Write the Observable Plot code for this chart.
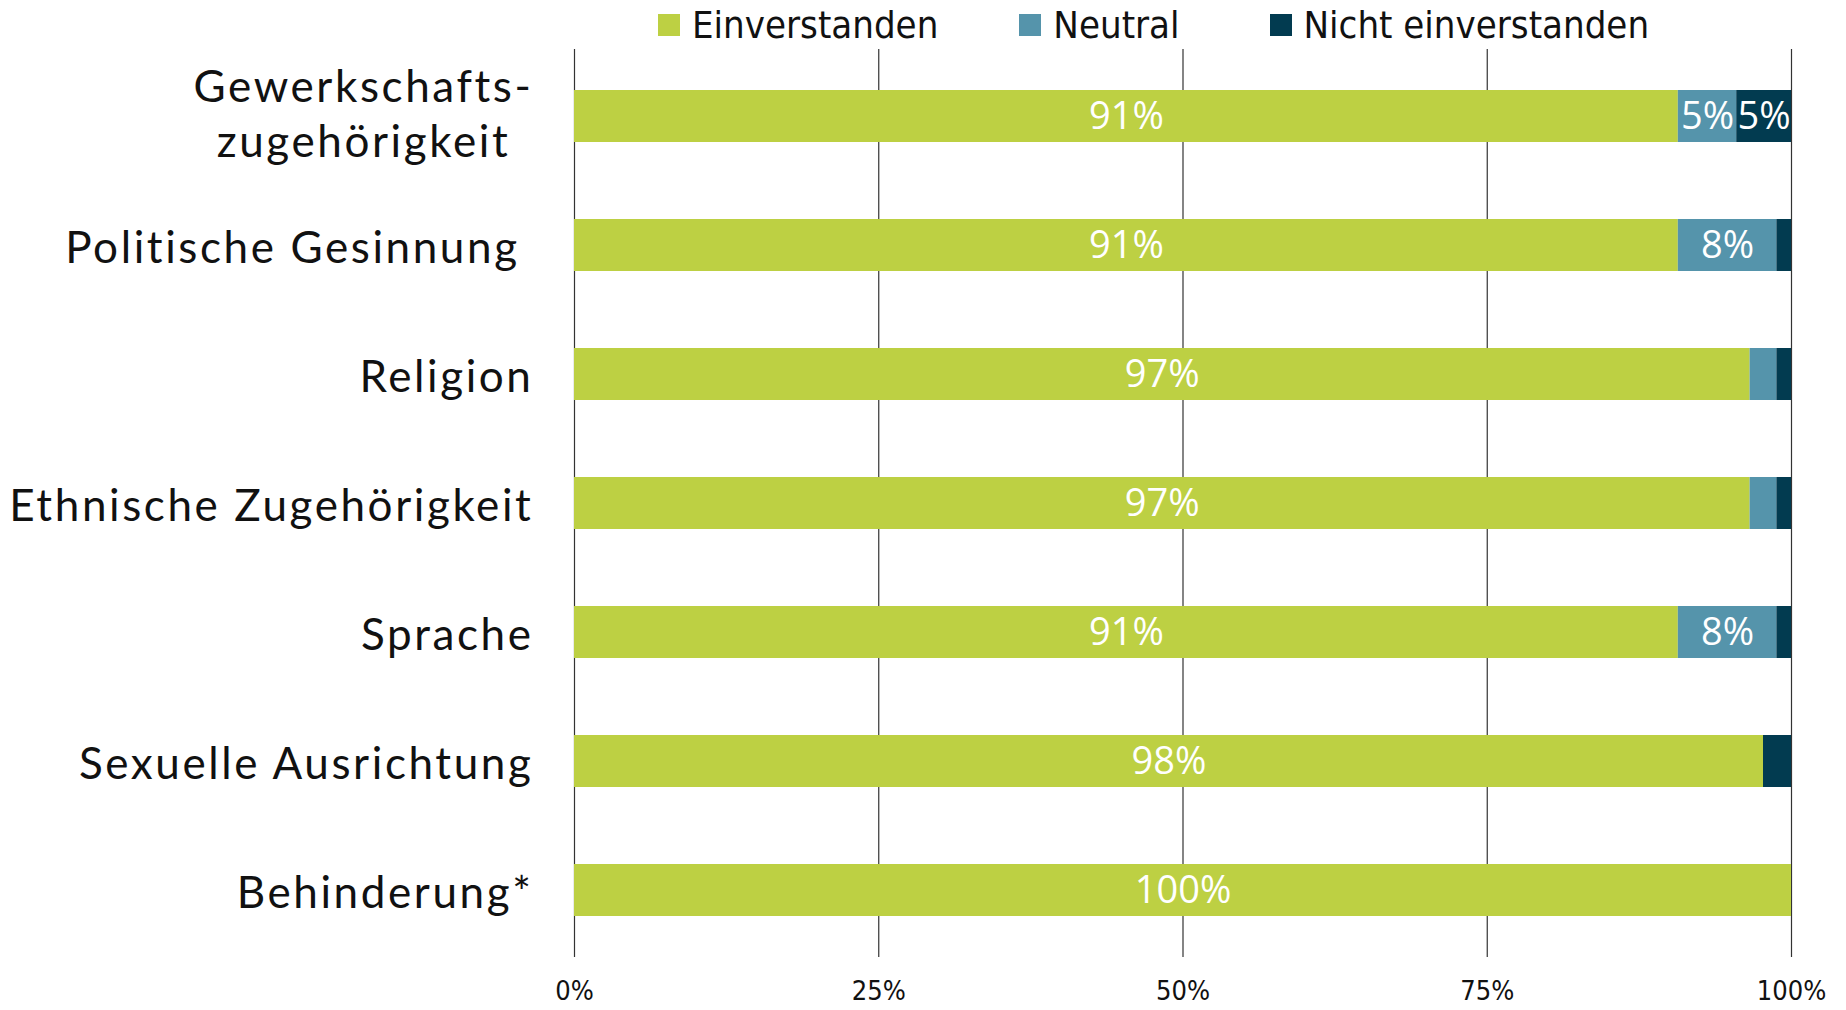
<!DOCTYPE html>
<html>
<head>
<meta charset="utf-8">
<script src="https://cdn.jsdelivr.net/npm/d3@7"></script>
<script src="https://cdn.jsdelivr.net/npm/@observablehq/plot@0.6"></script>
<style>
  html, body { margin: 0; padding: 0; background: #fff; }
  #wrap { position: relative; width: 1846px; height: 1010px; }
  #legend { position: absolute; top: 0; left: 658px; height: 50px; display: flex; align-items: center;
    font-family: "DejaVu Sans Condensed", "DejaVu Sans", sans-serif; font-stretch: condensed; font-size: 38px; color: #111; }
  #legend .item { display: flex; align-items: center; }
  #legend .sw { width: 22px; height: 22px; display: inline-block; margin-right: 12px; }
  #chart { position: absolute; top: 0; left: 0; }
</style>
</head>
<body>
<div id="wrap">
  <div id="chart"></div>
  <div id="legend"></div>
</div>
<script>
const categories = ["Gewerkschafts-\nzugehörigkeit", "Politische Gesinnung", "Religion", "Ethnische Zugehörigkeit", "Sprache", "Sexuelle Ausrichtung", "Behinderung*"];
const labelPad = ["", "\u00a0", "", "", "", "", ""];
const series = ["Einverstanden", "Neutral", "Nicht einverstanden"];
const colors = ["#bdd043", "#5594ab", "#023b50"];
const einverstanden = [90.7, 90.7, 96.6, 96.6, 90.7, 97.7, 100];
const neutral       = [4.8, 8.1, 2.2, 2.2, 8.1, 0, 0];
const nicht         = [4.5, 1.2, 1.2, 1.2, 1.2, 2.3, 0];
const shown         = [[91, 5, 5], [91, 8, null], [97, null, null], [97, null, null], [91, 8, null], [98, null, null], [100, null, null]];
const xTicks = [0, 25, 50, 75, 100];

const cols = [einverstanden, neutral, nicht];
const data = [];
categories.forEach((c, i) => {
  series.forEach((s, j) => {
    data.push({cat: c, series: s, value: cols[j][i], label: shown[i][j]});
  });
});

const labelFont = "Lato, 'Open Sans', sans-serif";
const condFont = "'DejaVu Sans Condensed', 'DejaVu Sans', sans-serif";

const chart = Plot.plot({
  width: 1846,
  height: 1010,
  marginLeft: 574,
  marginRight: 55,
  marginTop: 49,
  marginBottom: 53,
  style: {background: "transparent"},
  x: {domain: [0, 100], axis: null, label: null},
  y: {domain: categories, axis: null, paddingInner: 0.6, paddingOuter: 0.3, align: 0.5},
  color: {domain: series, range: colors},
  marks: [
    Plot.gridX(xTicks, {stroke: "#333", strokeOpacity: 1, strokeWidth: 1.2}),
    Plot.barX(data, Plot.stackX({x: "value", y: "cat", fill: "series", order: series})),
    Plot.text(data, Plot.stackX({
      x: "value", y: "cat", z: "series", order: series,
      text: d => d.label == null ? null : d.label + "%",
      fill: "white",
      fontSize: 38,
      fontFamily: "'Open Sans', sans-serif"
    })),
    Plot.axisX(xTicks, {
      label: null,
      tickSize: 0, tickPadding: 23, tickFormat: d => d + "%",
      fontSize: 27, fontFamily: condFont,
      fill: "#111"
    }),
    Plot.text(categories, {
      filter: (d, i) => i > 0,
      y: d => d,
      text: d => d + labelPad[categories.indexOf(d)],
      frameAnchor: "left",
      textAnchor: "end",
      dx: -41,
      fontSize: 44,
      fontFamily: labelFont,
      fill: "#111",
      lineHeight: 1.25
    }),
    Plot.text(categories, {
      filter: (d, i) => i === 0,
      y: d => d,
      text: d => d,
      frameAnchor: "left",
      textAnchor: "middle",
      dx: -211,
      dy: -5,
      fontSize: 44,
      fontFamily: labelFont,
      fill: "#111",
      lineHeight: 1.25
    })
  ]
});
chart.querySelectorAll("g[aria-label='text']").forEach(g => {
  if (g.getAttribute("font-size") === "44") g.setAttribute("letter-spacing", "2.6");
});
document.getElementById("chart").appendChild(chart);

const lg = document.getElementById("legend");
series.forEach((s, j) => {
  const it = document.createElement("span");
  it.className = "item";
  it.style.marginRight = j === 0 ? "81px" : (j === 1 ? "90px" : "0");
  it.innerHTML = `<span class="sw" style="background:${colors[j]}"></span><span>${s}</span>`;
  lg.appendChild(it);
});
</script>
</body>
</html>
